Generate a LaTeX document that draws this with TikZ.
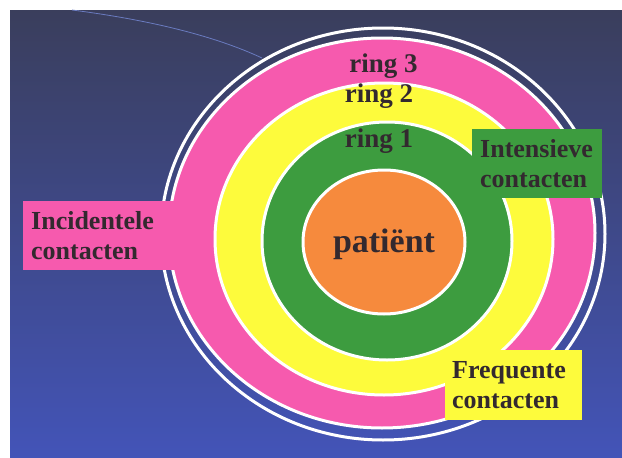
\documentclass[tikz,border=0pt]{standalone}
\usepackage{fontspec}
\setmainfont{Liberation Serif}
\usetikzlibrary{positioning, calc}
\definecolor{rosr}{HTML}{F65AAE}
\definecolor{gelr}{HTML}{FDFB3C}
\definecolor{grnr}{HTML}{3D9C3F}
\definecolor{orar}{HTML}{F68A3D}
\definecolor{inkr}{HTML}{33292F}
\definecolor{navt}{HTML}{3A3E5C}
\definecolor{navm}{HTML}{3D4A8E}
\definecolor{navb}{HTML}{4354B8}
\definecolor{swsh}{HTML}{6A7BC0}

\begin{document}
\begin{tikzpicture}[x=1pt, y=-1pt,
        border/.style={draw=white, line width=3pt},
        tag/.style={anchor=north west, align=left, inner xsep=8pt, inner ysep=0pt,
            text=inkr, font=\bfseries\fontsize{26}{30}\selectfont},
        ringname/.style={anchor=base, text=inkr, font=\bfseries\fontsize{27}{30}\selectfont}
    ]
    \useasboundingbox (0,0) rectangle (622,458);
    \shade[top color=navt, middle color=navm, bottom color=navb] (10,10) rectangle (622,458);
    \draw[swsh, line width=0.8pt] (72,10) .. controls (150,20) and (215,36) .. (262,58);

    % ringen, van buiten naar binnen
    \draw[border] (383,234) ellipse [x radius=222, y radius=206];
    \fill[rosr, border] (382,233) ellipse [x radius=213, y radius=195];
    \fill[gelr, border] (384,239) ellipse [x radius=169, y radius=156];
    \fill[grnr, border] (387,241) ellipse [x radius=125, y radius=119];
    \fill[orar, border] (384,242) ellipse [x radius=81, y radius=72];

    \node[ringname] (ring3) at (383.5,72) {ring 3};
    \node[ringname] (ring2) at (379,102) {ring 2};
    \node[ringname] (ring1) at (379,147) {ring 1};
    \node[anchor=base, text=inkr, font=\bfseries\fontsize{34}{36}\selectfont] (pat) at (384,252) {patiënt};

    % labels
    \node[tag, fill=rosr, text width=165pt, minimum height=69pt] (incid) at (23,201) {Incidentele\\contacten};
    \node[tag, fill=grnr, text width=114pt, minimum height=69pt] (inten) at (472,129) {Intensieve\\contacten};
    \node[tag, fill=gelr, text width=123pt, minimum height=70pt, inner xsep=7pt] (freq) at (445,350) {Frequente\\contacten};
\end{tikzpicture}
\end{document}
